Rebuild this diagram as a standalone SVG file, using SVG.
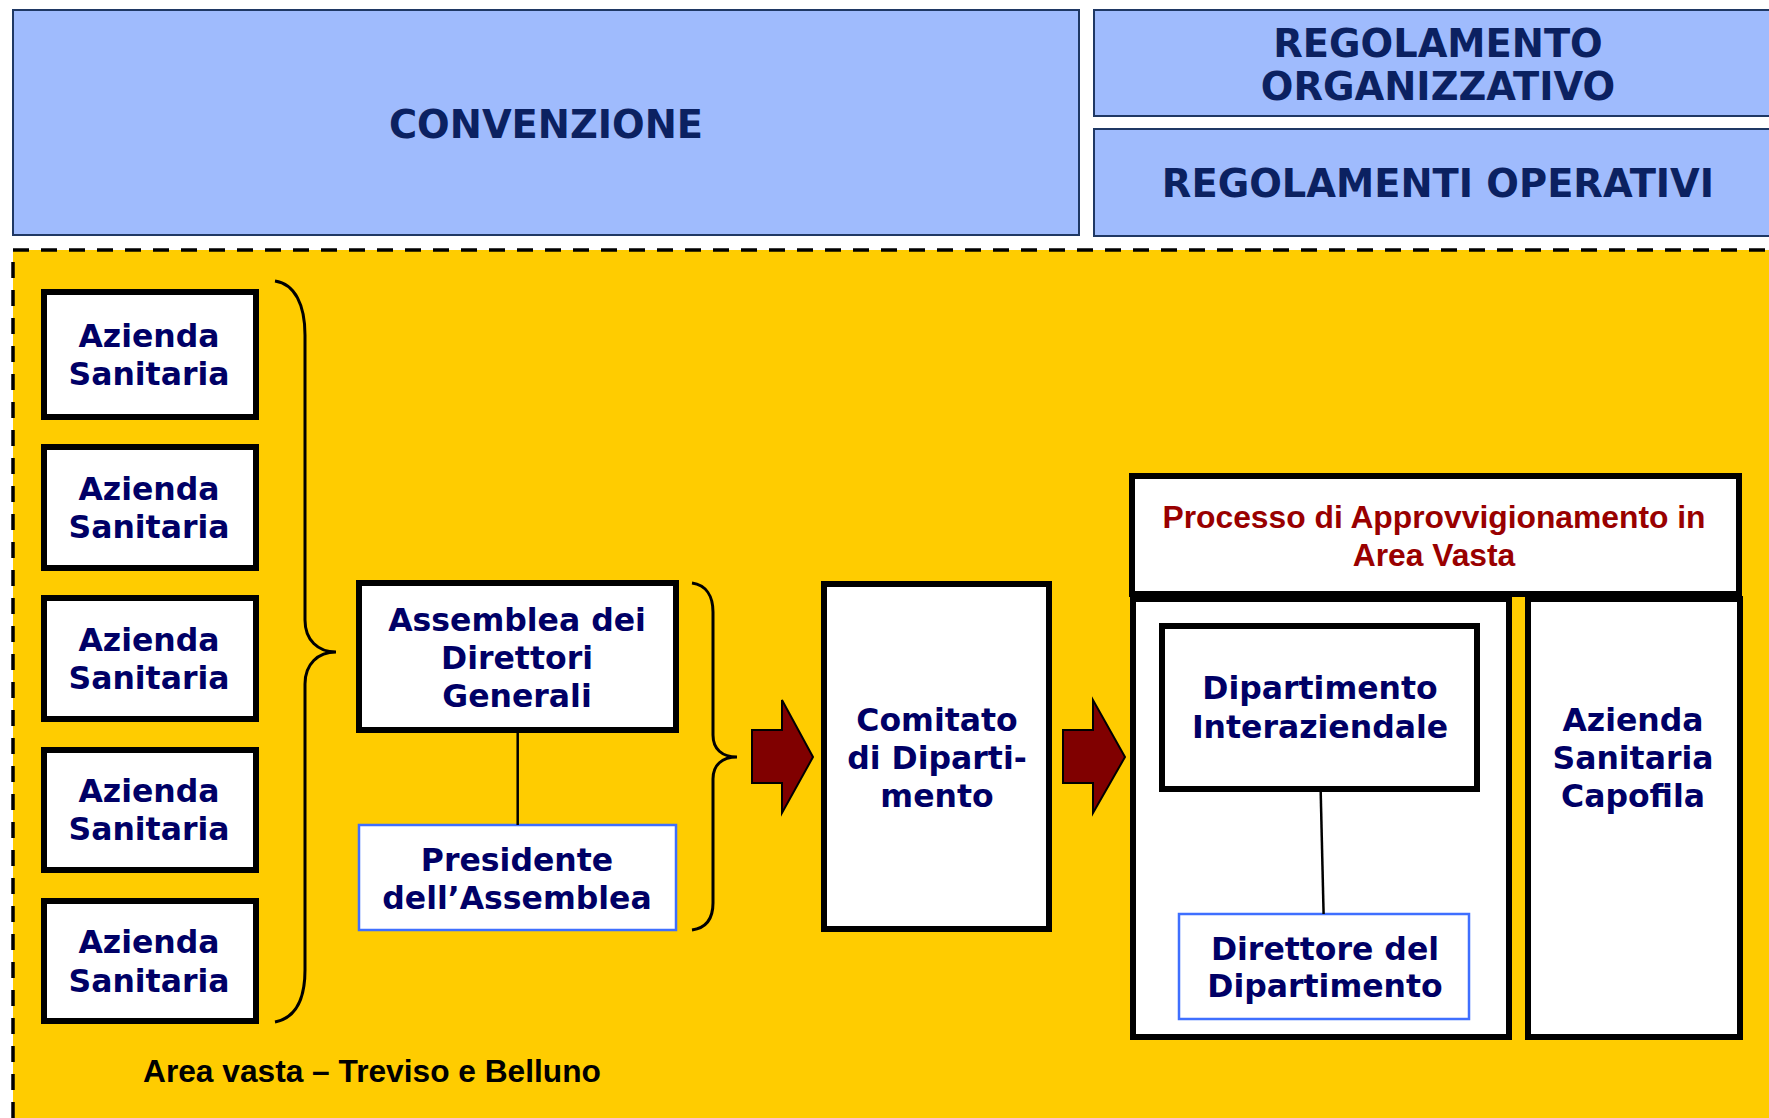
<svg xmlns="http://www.w3.org/2000/svg" width="1769" height="1118" viewBox="0 0 1769 1118">
<style>
.hdr{fill:#9FBBFD;stroke:#1F3864;stroke-width:2}
.htxt{font-family:"DejaVu Sans",Verdana,sans-serif;font-weight:bold;font-size:38.4px;fill:#0B2161;text-anchor:middle}
.box{fill:#fff;stroke:#000;stroke-width:6}
.bbox{fill:#fff;stroke:#3F6FFF;stroke-width:2.5}
.ntxt{font-family:"DejaVu Sans",Verdana,sans-serif;font-weight:bold;font-size:31.5px;fill:#000066;text-anchor:middle}
.rtxt{font-family:"Liberation Sans",Arial,sans-serif;font-weight:bold;font-size:31.8px;fill:#990000;text-anchor:middle}
.line{fill:none;stroke:#000;stroke-width:2.5}
.brace{fill:none;stroke:#000;stroke-width:3}
.arrow{fill:#800000;stroke:#000;stroke-width:2}
</style>
<rect x="0" y="0" width="1769" height="1118" fill="#fff"/>
<g id="convenzione">
<rect class="hdr" x="13" y="10" width="1066" height="225"/>
<text class="htxt" x="546" y="138">CONVENZIONE</text>
</g>
<g id="regolamento-organizzativo">
<rect class="hdr" x="1094" y="10" width="700" height="106"/>
<text class="htxt" x="1438" y="57">REGOLAMENTO</text>
<text class="htxt" x="1438" y="100">ORGANIZZATIVO</text>
</g>
<g id="regolamenti-operativi">
<rect class="hdr" x="1094" y="129" width="700" height="107"/>
<text class="htxt" x="1438" y="197">REGOLAMENTI OPERATIVI</text>
</g>
<g id="area-vasta">
<rect x="13" y="250" width="1780" height="900" fill="#FFCC00"/>
<path d="M13,1118 L13,250 L1769,250" fill="none" stroke="#000" stroke-width="3.5" stroke-dasharray="16 12"/>
<text x="143" y="1082" font-family="'Liberation Sans',Arial,sans-serif" font-weight="bold" font-size="31.7" fill="#000">Area vasta – Treviso e Belluno</text>
</g>
<g id="azienda1">
<rect class="box" x="44" y="292" width="212" height="125"/>
<text class="ntxt" x="149" y="347">Azienda</text>
<text class="ntxt" x="149" y="385">Sanitaria</text>
</g>
<g id="azienda2">
<rect class="box" x="44" y="447" width="212" height="121"/>
<text class="ntxt" x="149" y="500">Azienda</text>
<text class="ntxt" x="149" y="538">Sanitaria</text>
</g>
<g id="azienda3">
<rect class="box" x="44" y="598" width="212" height="121"/>
<text class="ntxt" x="149" y="651">Azienda</text>
<text class="ntxt" x="149" y="689">Sanitaria</text>
</g>
<g id="azienda4">
<rect class="box" x="44" y="750" width="212" height="120"/>
<text class="ntxt" x="149" y="802">Azienda</text>
<text class="ntxt" x="149" y="840">Sanitaria</text>
</g>
<g id="azienda5">
<rect class="box" x="44" y="901" width="212" height="120"/>
<text class="ntxt" x="149" y="953">Azienda</text>
<text class="ntxt" x="149" y="992">Sanitaria</text>
</g>
<g id="assemblea">
<rect class="box" x="359" y="583" width="317" height="147"/>
<text class="ntxt" x="517" y="631">Assemblea dei</text>
<text class="ntxt" x="517" y="669">Direttori</text>
<text class="ntxt" x="517" y="707">Generali</text>
</g>
<g id="presidente">
<rect class="bbox" x="359" y="825" width="317" height="105"/>
<text class="ntxt" x="517" y="871">Presidente</text>
<text class="ntxt" x="517" y="909">dell’Assemblea</text>
</g>
<g id="comitato">
<rect class="box" x="824" y="584" width="225" height="345"/>
<text class="ntxt" x="937" y="731">Comitato</text>
<text class="ntxt" x="937" y="769">di Diparti-</text>
<text class="ntxt" x="937" y="807">mento</text>
</g>
<g id="dip-left-panel">
<rect class="box" x="1133" y="599" width="376" height="438"/>
</g>
<g id="capofila">
<rect class="box" x="1528" y="599" width="212" height="438"/>
<text class="ntxt" x="1633" y="731">Azienda</text>
<text class="ntxt" x="1633" y="769">Sanitaria</text>
<text class="ntxt" x="1633" y="807">Capofila</text>
</g>
<g id="processo">
<rect class="box" x="1132" y="476" width="607" height="118"/>
<text class="rtxt" x="1434" y="528">Processo di Approvvigionamento in</text>
<text class="rtxt" x="1434" y="566">Area Vasta</text>
</g>
<g id="dipartimento">
<rect class="box" x="1162" y="626" width="315" height="163"/>
<text class="ntxt" x="1320" y="699">Dipartimento</text>
<text class="ntxt" x="1320" y="738">Interaziendale</text>
</g>
<g id="direttore">
<rect class="bbox" x="1179" y="914" width="290" height="105"/>
<text class="ntxt" x="1325" y="960">Direttore del</text>
<text class="ntxt" x="1325" y="997">Dipartimento</text>
</g>
<g id="connectors">
<path class="brace" d="M275,281 C295,284 305,305 305,335 L305,620 C305,640 318,652 336,652 C318,652 305,664 305,684 L305,970 C305,1000 295,1018 275,1022"/>
<path class="brace" d="M692,583 C706,585 713,596 713,612 L713,735 C713,749 722,757 737,757 C722,757 713,765 713,779 L713,903 C713,919 706,928 692,930"/>
<line class="line" x1="517.7" y1="733" x2="517.7" y2="825"/>
<line class="line" x1="1320.7" y1="792" x2="1323.6" y2="914"/>
<polygon class="arrow" points="752,730 782,730 782,700 813,757 782,813 782,783 752,783"/>
<polygon class="arrow" points="1063,730 1093,730 1093,700 1125,757 1093,813 1093,783 1063,783"/>
</g>
</svg>
